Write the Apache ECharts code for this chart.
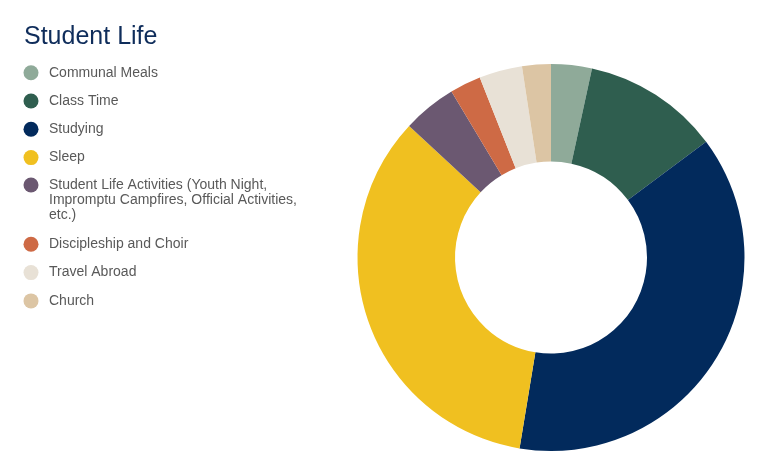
<!DOCTYPE html>
<html>
<head>
<meta charset="utf-8">
<script src="https://cdn.jsdelivr.net/npm/echarts@6/dist/echarts.min.js"></script>
<style>html,body{margin:0;padding:0;background:#fff}#c{width:768px;height:475px}</style>
</head>
<body>
<div id="c"></div>
<script>
const titleText = 'Student Life';
const categories = [
  'Communal Meals',
  'Class Time',
  'Studying',
  'Sleep',
  'Student Life Activities (Youth Night,\nImpromptu Campfires, Official Activities,\netc.)',
  'Discipleship and Choir',
  'Travel Abroad',
  'Church'
];
const values = [3.4, 11.4, 37.8, 34.3, 4.5, 2.6, 3.6, 2.4];
const colors = ['#8FAA99', '#2F5E4F', '#022A5C', '#F0C020', '#6B5871', '#CE6A45', '#E8E1D6', '#DCC5A4'];

const chart = echarts.init(document.getElementById('c'), null, {renderer: 'canvas'});
const legendBase = {
  orient: 'vertical', left: 23.5, icon: 'circle', padding: 0,
  itemWidth: 26, itemHeight: 15, itemGap: 13.3,
  selectedMode: false,
  textStyle: {fontFamily: 'Liberation Sans, Arial, sans-serif', fontSize: 14, color: '#595959', lineHeight: 15}
};
chart.setOption({
  animation: false,
  color: colors,
  title: {
    text: titleText, left: 19, top: 20,
    textStyle: {fontFamily: 'Liberation Sans, Arial, sans-serif', fontSize: 25, fontWeight: 'normal', color: '#0F2D5B'}
  },
  legend: [
    Object.assign({}, legendBase, {top: 65.2, data: categories.slice(0, 4)}),
    Object.assign({}, legendBase, {top: 147.5, data: categories.slice(4, 5),
      formatter: function (name) { return '\n\n' + name; }}),
    Object.assign({}, legendBase, {top: 236.8, data: categories.slice(5)})
  ],
  series: [{
    type: 'pie',
    center: [551, 257.5],
    radius: [96, 193.5],
    startAngle: 90,
    clockwise: true,
    label: {show: false},
    labelLine: {show: false},
    emphasis: {disabled: true},
    itemStyle: {borderWidth: 0},
    data: categories.map((n, i) => ({name: n, value: values[i]}))
  }]
});
</script>
</body>
</html>
